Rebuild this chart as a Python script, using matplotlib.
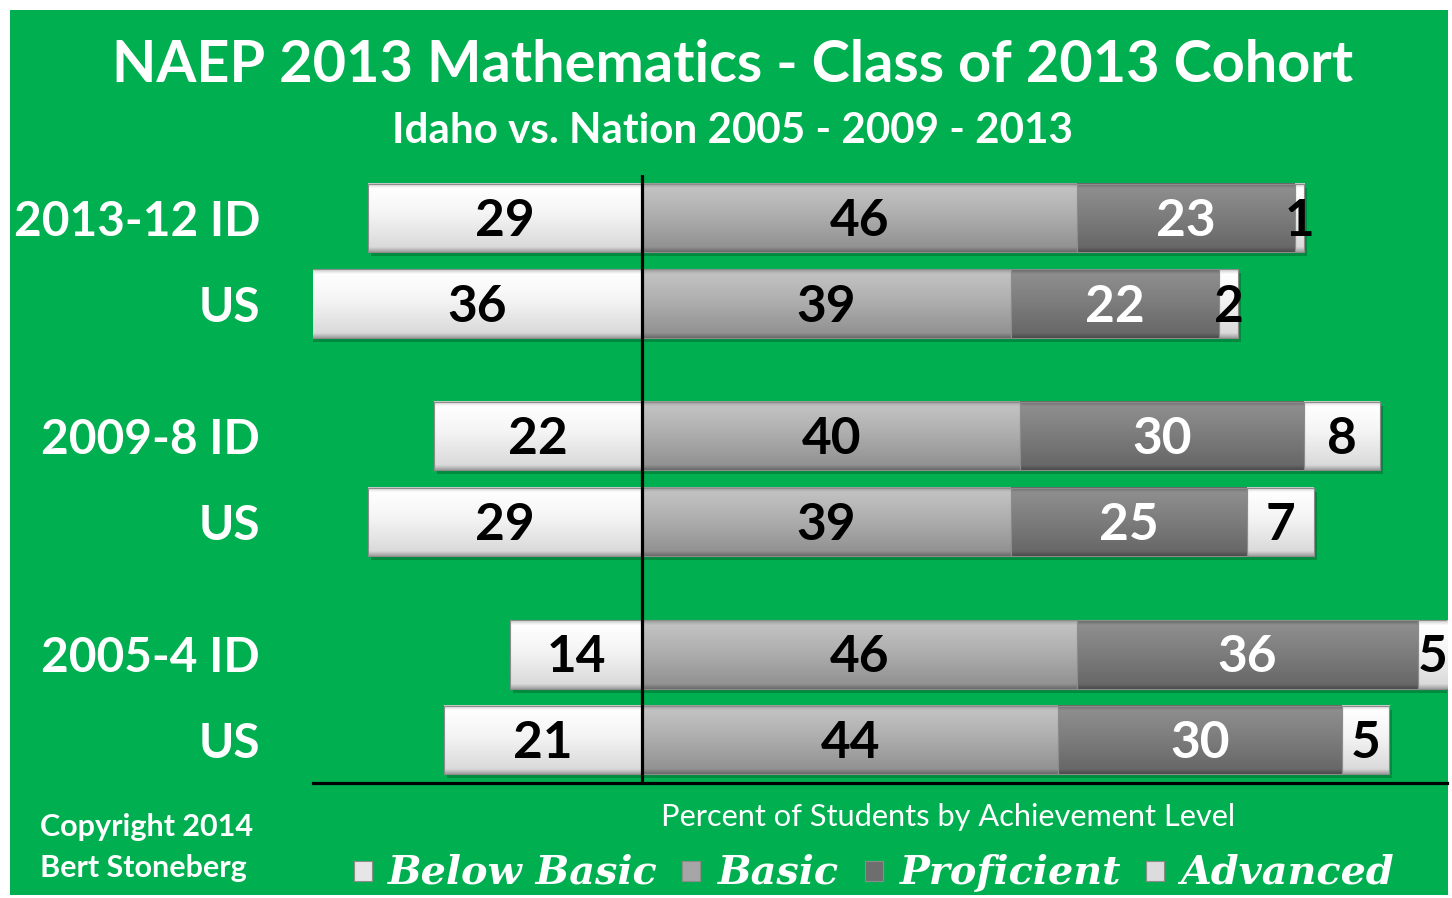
import matplotlib
matplotlib.use('Agg')
import matplotlib.pyplot as plt
import numpy as np
from matplotlib.patches import Rectangle
from matplotlib.colors import to_rgb
from matplotlib.transforms import offset_copy

# ---------------- data ----------------
rows = ["2013-12 ID", "US", "2009-8 ID", "US", "2005-4 ID", "US"]
below_basic = [29, 36, 22, 29, 14, 21]
basic = [46, 39, 40, 39, 46, 44]
proficient = [23, 22, 30, 25, 36, 30]
advanced = [1, 2, 8, 7, 5, 5]
levels = ["Below Basic", "Basic", "Proficient", "Advanced"]

title = "NAEP 2013 Mathematics - Class of 2013 Cohort"
subtitle = "Idaho vs. Nation 2005 - 2009 - 2013"
xlabel = "Percent of Students by Achievement Level"
credit_lines = ["Copyright 2014", "Bert Stoneberg"]

# ---------------- style ----------------
W, H = 1452, 898
GREEN = '#00B050'
FONT = 'Lato'
SERIF = 'DejaVu Serif'

grad_stops = {
    "Below Basic": ['#C8C8C8', '#FFFFFF', '#F4F4F4', '#DADADA', '#A0A0A0'],
    "Basic":       ['#9A9A9A', '#C2C2C2', '#AFAFAF', '#929292', '#6A6A6A'],
    "Proficient":  ['#666666', '#8E8E8E', '#7E7E7E', '#686868', '#4A4A4A'],
    "Advanced":    ['#C8C8C8', '#FFFFFF', '#F4F4F4', '#DADADA', '#A0A0A0'],
}
stop_pos = [0.0, 0.07, 0.45, 0.93, 1.0]
label_colors = {"Below Basic": 'black', "Basic": 'black',
                "Proficient": 'white', "Advanced": 'black'}
legend_colors = {"Below Basic": '#E6E6E6', "Basic": '#A6A6A6',
                 "Proficient": '#6E6E6E', "Advanced": '#DCDCDC'}


def gradient(name, n=120):
    t = np.linspace(0, 1, n)
    cols = np.array([to_rgb(c) for c in grad_stops[name]])
    out = np.stack([np.interp(t, stop_pos, cols[:, k]) for k in range(3)], axis=-1)
    return out[:, None, :]


fig = plt.figure(figsize=(W / 100, H / 100), dpi=100)
fig.patch.set_facecolor('white')
fig.add_artist(Rectangle((10 / W, 3 / H), (1448 - 10) / W, (895 - 10) / H,
                         transform=fig.transFigure, facecolor=GREEN,
                         edgecolor='none', zorder=-10))

ax = fig.add_axes([313 / W, (H - 783) / H, 1134 / W, 608 / H])
ax.set_facecolor('none')

XMIN, XMAX = -34.8, 85.1
YMIN, YMAX = -0.5, 6.58
ypos = [g * 2.54 + i for g in range(3) for i in range(2)]
bh = 0.8

lab_tr = offset_copy(ax.transData, fig=fig, x=0, y=-18, units='dots')
shadow_tr = offset_copy(ax.transData, fig=fig, x=3, y=-4, units='dots')

series = {"Below Basic": below_basic, "Basic": basic,
          "Proficient": proficient, "Advanced": advanced}

for r, y in enumerate(ypos):
    bb, b, p, a = below_basic[r], basic[r], proficient[r], advanced[r]
    segs = [("Below Basic", -bb, 0), ("Basic", 0, b),
            ("Proficient", b, b + p), ("Advanced", b + p, b + p + a)]
    # shadow behind whole bar
    ax.add_patch(Rectangle((-bb, y - bh / 2), bb + b + p + a, bh,
                           transform=shadow_tr, facecolor='#006B30',
                           alpha=0.55, edgecolor='none', zorder=1))
    for name, x0, x1 in segs:
        ax.imshow(gradient(name), extent=(x0, x1, y + bh / 2, y - bh / 2),
                  aspect='auto', interpolation='bilinear', zorder=2,
                  origin='upper')
        ax.add_patch(Rectangle((x0, y - bh / 2), x1 - x0, bh,
                               facecolor='none', edgecolor='#8C8C8C',
                               lw=0.8, zorder=3))
        vis0, vis1 = max(x0, XMIN), min(x1, XMAX)
        val = series[name][r]
        ax.text((vis0 + vis1) / 2, y, str(val), transform=lab_tr,
                ha='center', va='baseline', fontsize=37,
                fontweight='bold', family=FONT,
                color=label_colors[name], zorder=6, clip_on=False)

ax.axvline(0, color='black', lw=2.3, zorder=5)
ax.set_xlim(XMIN, XMAX)
ax.set_ylim(YMAX, YMIN)
for s in ['top', 'right', 'left']:
    ax.spines[s].set_visible(False)
ax.spines['bottom'].set_linewidth(2.3)
ax.spines['bottom'].set_color('black')
ax.spines['bottom'].set_zorder(5)
ax.set_xticks([])
ax.set_yticks([])

renderer = fig.canvas.get_renderer()


def fit_size(text, width, **kw):
    t = fig.text(0, 0, text, fontsize=20, **kw)
    w = t.get_window_extent(renderer).width
    t.remove()
    return 20 * width / w


# y-axis row labels
ysz = fit_size(rows[0], 246, family=FONT, fontweight='bold')
ylab_x = XMIN + (260 - 313) / 9.46
for lab, y in zip(rows, ypos):
    ax.text(ylab_x, y, lab, transform=lab_tr, ha='right', va='baseline',
            fontsize=ysz, fontweight='bold', family=FONT, color='white',
            clip_on=False)


def ftext(text, x_px, base_px, size, ha='center', **kw):
    fig.text(x_px / W, 1 - base_px / H, text, ha=ha, va='baseline',
             fontsize=size, color='white', **kw)


tsz = fit_size(title, 1240, family=FONT, fontweight='bold')
ftext(title, 733, 82, tsz, family=FONT, fontweight='bold')
ssz = fit_size(subtitle, 681, family=FONT, fontweight='bold')
ftext(subtitle, 732, 143, ssz, family=FONT, fontweight='bold')
xsz = fit_size(xlabel, 577, family=FONT)
ftext(xlabel, 948, 826, xsz, family=FONT)

csz = fit_size(credit_lines[0], 213, family=FONT, fontweight='bold')
ftext(credit_lines[0], 40, 836, csz, ha='left', family=FONT, fontweight='bold')
ftext(credit_lines[1], 40, 877, csz, ha='left', family=FONT, fontweight='bold')

# legend
lsz = fit_size(levels[0], 269, family=SERIF, fontweight='bold', style='italic')
leg_marker_x = [354, 682, 865, 1146]
leg_text_x = [388, 718, 900, 1180]
for name, mx, tx in zip(levels, leg_marker_x, leg_text_x):
    fig.add_artist(Rectangle((mx / W, 1 - 881 / H), 18 / W, 20 / H,
                             transform=fig.transFigure,
                             facecolor=legend_colors[name],
                             edgecolor='#8C8C8C', lw=0.8))
    ftext(name, tx, 884, lsz, ha='left', family=SERIF, fontweight='bold',
          style='italic')

fig.savefig('out.png', dpi=100, facecolor=fig.get_facecolor())
